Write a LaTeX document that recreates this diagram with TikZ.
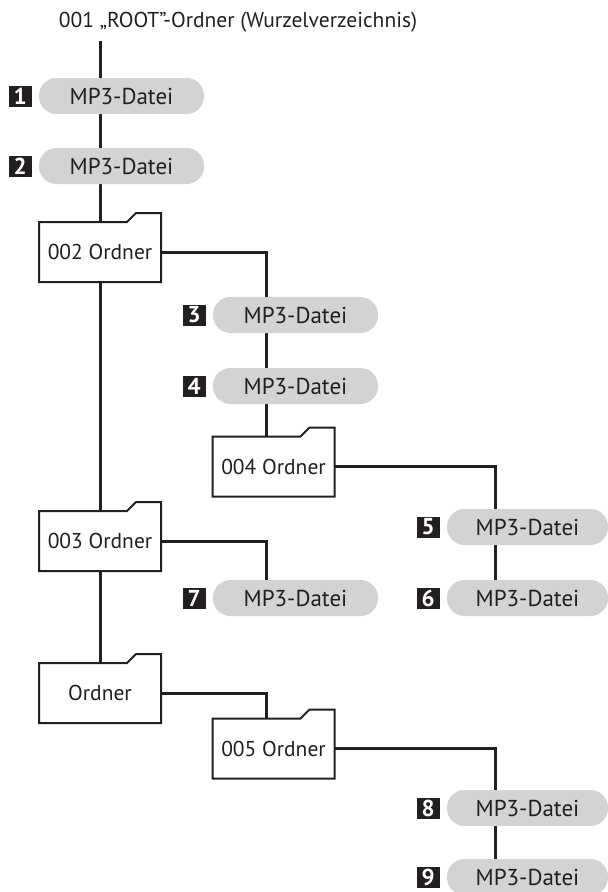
\documentclass[tikz,border=0pt]{standalone}
\usepackage{fontspec}
\setmainfont{PT Sans}
\usetikzlibrary{calc,backgrounds}
\definecolor{pillgray}{HTML}{D1D3D4}
\definecolor{ink}{HTML}{231F20}
\tikzset{
  pill/.style={fill=pillgray, rounded corners=17.5pt, minimum width=165pt, minimum height=36pt, inner sep=0pt, text=ink, font=\fontsize{23}{26}\selectfont},
  pillr/.style={pill, minimum width=161pt},
  numbox/.style={fill=ink, text=white, minimum width=23pt, minimum height=21pt, inner sep=0pt, font=\fontsize{23}{23}\selectfont\bfseries},
  folder/.style={minimum width=122pt, minimum height=60pt, inner sep=0pt, text=ink, font=\fontsize{21.5}{24}\selectfont},
  foldline/.style={line width=2pt, draw=ink, fill=white, line join=miter},
  conn/.style={line width=3pt, draw=ink},
  titletext/.style={inner sep=0pt, text=ink, font=\fontsize{21.5}{24}\selectfont}
}
\newcommand\myfolder[4]{%
  \draw[foldline] ($(#2,#3)+(-61,30)$) -- ($(#2,#3)+(-61,-30)$) -- ($(#2,#3)+(27,-30)$) -- ($(#2,#3)+(36,-39)$) -- ($(#2,#3)+(61,-39)$) -- ($(#2,#3)+(61,30)$) -- cycle;
  \node[folder] (#1) at (#2,#3) {#4};}
\begin{document}
\begin{tikzpicture}[x=1pt,y=-1pt]
\useasboundingbox (0,0) rectangle (608,892);
% title
\node[titletext] (title) at (238,22) {001 „ROOT”-Ordner (Wurzelverzeichnis)};
\coordinate (rootc) at (100,41);
\coordinate (c2) at (266,0);
\coordinate (c3) at (495,0);
% pills
\node[pill] (p1) at (121.5,96) {MP3-Datei};
\node[pill] (p2) at (121.5,166) {MP3-Datei};
\node[pill] (p3) at (295.5,315) {MP3-Datei};
\node[pill] (p4) at (295.5,386) {MP3-Datei};
\node[pillr] (p5) at (527.5,527) {MP3-Datei};
\node[pillr] (p6) at (527.5,598) {MP3-Datei};
\node[pill] (p7) at (295.5,598) {MP3-Datei};
\node[pillr] (p8) at (527.5,808) {MP3-Datei};
\node[pillr] (p9) at (527.5,877) {MP3-Datei};
% number boxes
\foreach \i in {1,...,9}{
  \node[numbox, anchor=east] (n\i) at ($(p\i.west)+(-7,0)$) {\i};
}
% folders
\myfolder{f002}{100}{252}{002 Ordner}
\myfolder{f003}{100}{541}{003 Ordner}
\myfolder{ford}{100}{693}{Ordner}
\myfolder{f004}{273.5}{466.5}{004 Ordner}
\myfolder{f005}{273.5}{748.5}{005 Ordner}
% connectors
\begin{scope}[on background layer]
\draw[conn] (rootc) -- (f002.north);
\draw[conn] (f002.south) -- (f003.north);
\draw[conn] (f003.south) -- (ford.north);
\draw[conn] (f002.east) -| (c2 |- f004.north);
\draw[conn] (f004.east) -| (c3 |- p6.center);
\draw[conn] (f003.east) -| (c2 |- p7.center);
\draw[conn] (ford.east) -| (c2 |- f005.north);
\draw[conn] (f005.east) -| (c3 |- p9.center);
\end{scope}
\end{tikzpicture}
\end{document}
